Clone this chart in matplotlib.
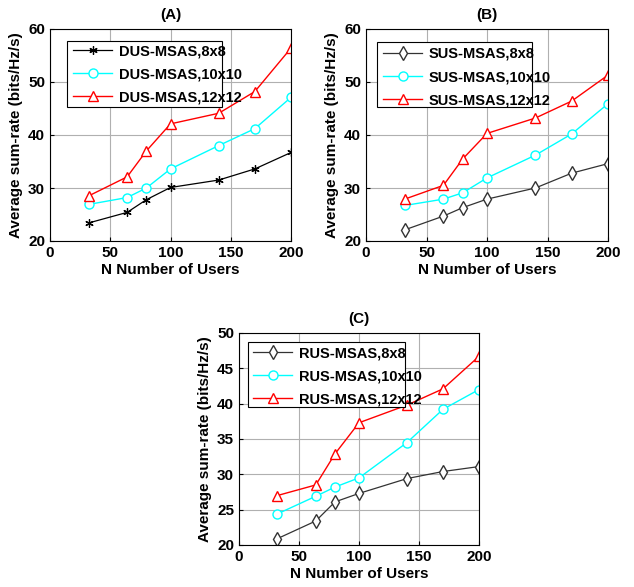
import matplotlib.pyplot as plt
from matplotlib.patches import Rectangle

plt.rcParams['font.family'] = ['Liberation Sans', 'DejaVu Sans']
plt.rcParams['font.weight'] = 'bold'

# --- Data ---
users = [32, 64, 80, 100, 140, 170, 200]

dus_8 = [23.4, 25.4, 27.8, 30.1, 31.5, 33.6, 36.7]
dus_10 = [26.9, 28.2, 30.0, 33.6, 38.0, 41.2, 47.1]
dus_12 = [28.5, 32.1, 37.0, 42.1, 44.1, 48.2, 56.4]

sus_8 = [22.1, 24.7, 26.3, 27.9, 30.0, 32.8, 34.6]
sus_10 = [26.7, 27.9, 29.1, 31.9, 36.2, 40.2, 45.9]
sus_12 = [27.9, 30.5, 35.5, 40.3, 43.2, 46.4, 51.3]

rus_8 = [20.9, 23.4, 26.1, 27.3, 29.4, 30.4, 31.1]
rus_10 = [24.4, 26.9, 28.2, 29.5, 34.5, 39.2, 42.0]
rus_12 = [27.0, 28.5, 32.9, 37.3, 39.8, 42.1, 46.7]

W, H = 634, 587
fig = plt.figure(figsize=(W / 100, H / 100), dpi=100)


def panel(ax_px, leg_px, title, prefix, s8, s10, s12, m8, ylim, yticks):
    l, r, t, b = ax_px
    ax = fig.add_axes([l / W, 1 - b / H, (r - l) / W, (b - t) / H])
    fx = lambda x: (x - l) / (r - l)
    fy = lambda y: 1 - (y - t) / (b - t)

    if m8 == '*':
        ax.plot(users, s8, color='k', lw=0.9, marker=(6, 2, 0), ms=6, mec='k',
                mew=0.9, label=prefix + '-MSAS,8x8')
    else:
        ax.plot(users, s8, color='#333333', lw=0.9, marker='d', ms=7, mfc='white',
                mec='#333333', label=prefix + '-MSAS,8x8')
    ax.plot(users, s10, color='cyan', lw=1.0, marker='o', ms=6.5, mfc='white',
            mec='cyan', label=prefix + '-MSAS,10x10')
    ax.plot(users, s12, color='red', lw=1.0, marker='^', ms=7, mfc='white',
            mec='red', label=prefix + '-MSAS,12x12')
    ax.set_xlim(0, 200)
    ax.set_ylim(*ylim)
    ax.set_xticks([0, 50, 100, 150, 200])
    ax.set_yticks(yticks)
    ax.tick_params(labelsize=11, direction='in', length=3)
    ax.grid(True, color='#b0b0b0', lw=0.8)
    ax.set_axisbelow(True)
    ax.set_title(title, fontsize=11, fontweight='bold', pad=7)
    ax.set_ylabel('Average sum-rate (bits/Hz/s)', fontsize=11, fontweight='bold')
    ax.set_xlabel('N Number of Users', fontsize=11, fontweight='bold', labelpad=2)

    # legend box (text overflows the frame like the reference)
    bx0, bx1, by0, by1, hx, ty = leg_px
    ax.add_patch(Rectangle((fx(bx0), fy(by1)), fx(bx1) - fx(bx0), fy(by0) - fy(by1),
                           transform=ax.transAxes, facecolor='white',
                           edgecolor='k', lw=0.8, zorder=4))
    leg = ax.legend(loc='upper left', bbox_to_anchor=(fx(hx), fy(ty)), fontsize=10.5,
                    frameon=False, handlelength=2.7, handletextpad=0.45,
                    borderpad=0, borderaxespad=0, labelspacing=0.62)
    leg.set_zorder(5)
    return ax


panel((50, 291, 29, 241), (67, 222, 41, 107, 73, 44), '(A)', 'DUS',
      dus_8, dus_10, dus_12, '*', (20, 60), [20, 30, 40, 50, 60])
panel((366, 608, 29, 241), (377, 532, 42, 107, 383, 47), '(B)', 'SUS',
      sus_8, sus_10, sus_12, 'd', (20, 60), [20, 30, 40, 50, 60])
panel((239, 479, 333, 545), (248, 405, 342, 407, 253, 346), '(C)', 'RUS',
      rus_8, rus_10, rus_12, 'd', (20, 50), [20, 25, 30, 35, 40, 45, 50])

fig.savefig('out.png', dpi=100)
